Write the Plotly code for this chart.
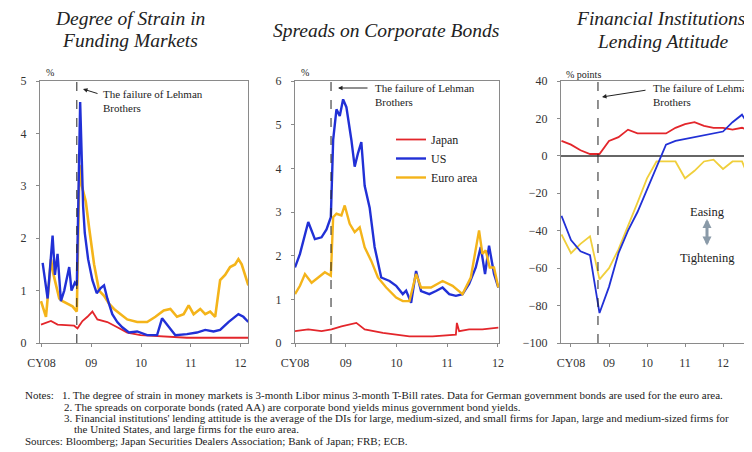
import plotly.graph_objects as go

# The page body adds an 8px margin, so the figure is sized to fill the rest of the 752x452 view.
OFF = 8
W, H = 752 - OFF, 452 - OFF
FONT = "Liberation Serif"

# ---------------- Panel 1: Degree of strain in funding markets (%) ----------------
p1_us_x = [2008.023, 2008.123, 2008.223, 2008.27, 2008.323, 2008.39, 2008.457, 2008.557, 2008.603,
           2008.67, 2008.71, 2008.777, 2008.81, 2008.837, 2008.87, 2008.937, 2009.023, 2009.11,
           2009.19, 2009.257, 2009.323, 2009.423, 2009.523, 2009.623, 2009.757, 2009.923, 2010.123,
           2010.323, 2010.423, 2010.557, 2010.69, 2010.923, 2011.123, 2011.29, 2011.457, 2011.59,
           2011.757, 2011.957, 2012.057, 2012.157]
p1_us_y = [1.53, 0.85, 2.05, 1.3, 1.7, 0.8, 1.0, 1.45, 1.0,
           1.15, 1.1, 4.6, 3.5, 2.6, 2.1, 1.6, 1.2, 0.95,
           1.05, 1.1, 0.85, 0.55, 0.4, 0.3, 0.2, 0.22, 0.15,
           0.15, 0.47, 0.3, 0.15, 0.17, 0.2, 0.25, 0.22, 0.25,
           0.4, 0.55, 0.5, 0.4]

p1_ea_x = [2007.99, 2008.09, 2008.157, 2008.19, 2008.243, 2008.29, 2008.357, 2008.423, 2008.523,
           2008.623, 2008.71, 2008.763, 2008.81, 2008.89, 2008.957, 2009.057, 2009.157, 2009.257,
           2009.357, 2009.457, 2009.59, 2009.723, 2009.923, 2010.123, 2010.29, 2010.457, 2010.59,
           2010.723, 2010.857, 2010.957, 2011.057, 2011.19, 2011.29, 2011.39, 2011.49, 2011.59,
           2011.69, 2011.79, 2011.89, 2011.957, 2012.023, 2012.09, 2012.157]
p1_ea_y = [0.8, 0.5, 1.2, 1.6, 1.3, 1.1, 0.85, 0.8, 0.75,
           0.7, 0.6, 3.4, 3.0, 2.7, 2.2, 1.5, 1.0, 0.9,
           0.75, 0.65, 0.55, 0.45, 0.4, 0.4, 0.5, 0.62, 0.65,
           0.5, 0.55, 0.72, 0.55, 0.65, 0.55, 0.6, 0.5, 1.2,
           1.3, 1.45, 1.5, 1.6, 1.5, 1.3, 1.1]

p1_jp_x = [2007.99, 2008.19, 2008.323, 2008.657, 2008.723, 2008.823, 2008.923, 2009.023, 2009.123,
           2009.323, 2009.523, 2009.723, 2009.99, 2010.39, 2010.923, 2011.523, 2012.157]
p1_jp_y = [0.35, 0.42, 0.35, 0.33, 0.28, 0.42, 0.5, 0.6, 0.45,
           0.4, 0.3, 0.2, 0.15, 0.13, 0.1, 0.1, 0.1]

# ---------------- Panel 2: Spreads on corporate bonds (%) ----------------
p2_us_x = [2008.0, 2008.098, 2008.261, 2008.392, 2008.523, 2008.621, 2008.706, 2008.752, 2008.817,
           2008.882, 2008.948, 2009.013, 2009.111, 2009.176, 2009.242, 2009.307, 2009.373, 2009.471,
           2009.569, 2009.699, 2009.863, 2009.993, 2010.124, 2010.19, 2010.288, 2010.386, 2010.484,
           2010.647, 2010.778, 2010.908, 2011.039, 2011.17, 2011.301, 2011.431, 2011.562, 2011.66,
           2011.745, 2011.824, 2011.922, 2012.007]
p2_us_y = [1.73, 2.04, 2.77, 2.38, 2.42, 2.6, 2.88, 4.65, 5.35,
           5.2, 5.58, 5.4, 4.65, 4.04, 4.35, 4.6, 3.6, 3.1,
           2.2, 1.5, 1.42, 1.31, 1.12, 1.2, 0.92, 1.65, 1.19,
           1.12, 1.19, 1.27, 1.12, 1.08, 1.12, 1.35, 1.73, 2.2,
           1.58, 2.23, 1.58, 1.27]

p2_ea_x = [2008.0, 2008.098, 2008.196, 2008.327, 2008.458, 2008.588, 2008.706, 2008.752, 2008.817,
           2008.915, 2008.98, 2009.078, 2009.176, 2009.275, 2009.373, 2009.503, 2009.634, 2009.797,
           2009.993, 2010.124, 2010.255, 2010.386, 2010.484, 2010.68, 2010.908, 2011.105, 2011.301,
           2011.464, 2011.627, 2011.693, 2011.758, 2011.837, 2011.922, 2012.007]
p2_ea_y = [1.12, 1.31, 1.58, 1.38, 1.5, 1.62, 1.54, 2.88, 2.96,
           2.92, 3.15, 2.73, 2.54, 2.65, 2.19, 1.88, 1.5, 1.27,
           1.04, 0.96, 0.96, 1.58, 1.27, 1.27, 1.42, 1.31, 1.12,
           1.5, 2.58, 2.04, 2.12, 1.73, 1.73, 1.27]

p2_jp_x = [2008.0, 2008.261, 2008.523, 2008.719, 2008.915, 2009.078, 2009.209, 2009.373, 2009.732,
           2010.255, 2010.712, 2011.17, 2011.19, 2011.235, 2011.431, 2011.693, 2012.007]
p2_jp_y = [0.27, 0.31, 0.27, 0.31, 0.38, 0.42, 0.46, 0.31, 0.23,
           0.15, 0.15, 0.19, 0.46, 0.27, 0.31, 0.31, 0.35]

# ---------------- Panel 3: Lending attitude (% points), quarterly 2007Q4-2012Q4 ----------------
p3_x = [2007.75, 2008.0, 2008.25, 2008.5, 2008.75, 2009.0, 2009.25, 2009.5, 2009.75,
        2010.0, 2010.25, 2010.5, 2010.75, 2011.0, 2011.25, 2011.5, 2011.75,
        2012.0, 2012.25, 2012.5, 2012.75]
p3_jp = [8, 6, 3, 1, 1, 8, 10, 14, 12, 12, 12, 12, 15, 17, 18, 16, 15, 15, 14, 15, 13]
p3_us = [-32, -45, -51, -53, -84, -70, -52, -40, -30, -18, -5, 6, 8, 9, 10, 11, 12, 13, 18, 22, 14]
p3_ea = [-42, -52, -47, -43, -66, -60, -50, -38, -25, -12, -3, -3, -3, -12, -8, -3, -2, -7, -3, -3, -15]

LEHMAN = 2008.71
YEAR_TICKS = [2008, 2009, 2010, 2011, 2012]
YEAR_TEXT = ["CY08", "09", "10", "11", "12"]

C_JP = "#e3262b"
C_US = "#2130d6"
C_EA = "#f4b41a"
C_EA3 = "#f0cf3c"

fig = go.Figure()

def line(x, y, color, width, xa, ya, name=None, show=False):
    fig.add_trace(go.Scatter(x=x, y=y, mode="lines", line=dict(color=color, width=width),
                             xaxis=xa, yaxis=ya, name=name, showlegend=show, hoverinfo="skip"))

# panel 1
line(p1_jp_x, p1_jp_y, C_JP, 1.8, "x", "y")
line(p1_ea_x, p1_ea_y, C_EA, 2.6, "x", "y")
line(p1_us_x, p1_us_y, C_US, 2.4, "x", "y")
# panel 2 (carries the legend)
line(p2_jp_x, p2_jp_y, C_JP, 1.8, "x2", "y2", "Japan", True)
line(p2_us_x, p2_us_y, C_US, 2.4, "x2", "y2", "US", True)
line(p2_ea_x, p2_ea_y, C_EA, 2.4, "x2", "y2", "Euro area", True)
fig.data[3].legendrank = 1
fig.data[4].legendrank = 2
fig.data[5].legendrank = 3
# panel 3
line(p3_x, p3_ea, C_EA3, 1.8, "x3", "y3")
line(p3_x, p3_jp, C_JP, 1.8, "x3", "y3")
line(p3_x, p3_us, C_US, 1.8, "x3", "y3")

# screen pixel -> paper fraction
def px(x):
    return (x - OFF) / W

def py(y):
    return 1 - (y - OFF) / H

tickfont = dict(family=FONT, size=12, color="#333")
axis_common = dict(showline=True, mirror=True, linecolor="#8a8a8a", linewidth=1,
                   showgrid=False, ticks="outside", ticklen=3, tickcolor="#8a8a8a",
                   tickfont=tickfont, automargin=False)
xcommon = dict(tickvals=YEAR_TICKS, ticktext=YEAR_TEXT, zeroline=False, ticklabelstandoff=6,
               **axis_common)
ycommon = dict(ticklabelstandoff=7, **axis_common)

ydom = [py(343), py(81)]
fig.update_layout(
    template="none",
    width=W, height=H, margin=dict(l=0, r=0, t=0, b=0, pad=0),
    paper_bgcolor="white", plot_bgcolor="white",
    font=dict(family=FONT, color="#222"),
    xaxis=dict(domain=[px(40), px(248)], range=[2007.97, 2012.15], **xcommon),
    yaxis=dict(domain=ydom, range=[0, 5], dtick=1, zeroline=False, **ycommon),
    xaxis2=dict(domain=[px(295), px(499)], range=[2008.0, 2012.02], anchor="y2", **xcommon),
    yaxis2=dict(domain=ydom, range=[0, 6], dtick=1, zeroline=False, anchor="x2", **ycommon),
    xaxis3=dict(domain=[px(561), 1.0], range=[2007.737, 2012.763], anchor="y3", **xcommon),
    yaxis3=dict(domain=ydom, range=[-100, 40], dtick=20, zeroline=True, zerolinecolor="#666",
                zerolinewidth=1.5, anchor="x3", **ycommon),
    legend=dict(x=px(391), y=py(125), xanchor="left", yanchor="top", bgcolor="rgba(0,0,0,0)",
                font=dict(family=FONT, size=12, color="#222"), tracegroupgap=0,
                itemwidth=30),
)

# Lehman lines
for xa, ya in [("x", "y"), ("x2", "y2"), ("x3", "y3")]:
    fig.add_shape(type="line", xref=xa, yref=f"{ya} domain",
                  x0=LEHMAN, x1=LEHMAN, y0=0, y1=1,
                  line=dict(color="#222", width=1, dash="dash"))

ann = []

def text(x, y, s, size, xanchor="center", yanchor="middle", color="#222", align="left"):
    ann.append(dict(x=px(x), y=py(y), xref="paper", yref="paper", text=s, showarrow=False,
                    xanchor=xanchor, yanchor=yanchor, align=align,
                    font=dict(family=FONT, size=size, color=color)))

def arrow(hx, hy, tx, ty, color="#222", width=1, head=2, size=0.9, side="end"):
    ann.append(dict(x=px(hx), y=py(hy), xref="paper", yref="paper", text="",
                    showarrow=True, ax=tx - hx, ay=ty - hy, arrowhead=head, startarrowhead=head,
                    arrowsize=size, startarrowsize=size, arrowside=side,
                    arrowwidth=width, arrowcolor=color))

# titles
TS = 19.5
text(130, 19, "<i>Degree of Strain in</i>", TS)
text(130, 40, "<i>Funding Markets</i>", TS)
text(386, 30, "<i>Spreads on Corporate Bonds</i>", TS)
text(663, 19, "<i>Financial Institutions'</i>", TS)
text(663, 41, "<i>Lending Attitude</i>", TS)

# unit labels
text(44, 73, "%", 10, xanchor="left")
text(299, 73, "%", 10, xanchor="left")
text(564, 74, "% points", 10, xanchor="left")

# Lehman annotations
lehman = "The failure of Lehman<br>Brothers"
LS = 11
text(101, 86, lehman, LS, xanchor="left", yanchor="top")
arrow(83, 89, 99, 94)
text(373, 80, lehman, LS, xanchor="left", yanchor="top")
arrow(338, 88, 369, 88)
text(651, 80, lehman, LS, xanchor="left", yanchor="top")
arrow(602, 97, 647, 90)

# Easing / Tightening
text(707, 212, "Easing", 12.5)
arrow(707, 219, 707, 247, color="#8a9aa8", width=3, head=2, size=0.6, side="end+start")
text(707, 258, "Tightening", 12.5)

# notes
NS = 11
text(23, 395, "Notes:", NS, xanchor="left")
text(60, 395, "1. The degree of strain in money markets is 3-month Libor minus 3-month T-Bill rates. "
     "Data for German government bonds are used for the euro area.", NS, xanchor="left")
text(62, 407, "2. The spreads on corporate bonds (rated AA) are corporate bond yields minus "
     "government bond yields.", NS, xanchor="left")
text(62, 418, "3. Financial institutions' lending attitude is the average of the DIs for large, "
     "medium-sized, and small firms for Japan, large and medium-sized firms for", NS, xanchor="left")
text(72, 429, "the United States, and large firms for the euro area.", NS, xanchor="left")
text(23, 441, "Sources: Bloomberg; Japan Securities Dealers Association; Bank of Japan; FRB; ECB.",
     NS, xanchor="left")

fig.update_layout(annotations=ann)
fig.write_html("out.html")
